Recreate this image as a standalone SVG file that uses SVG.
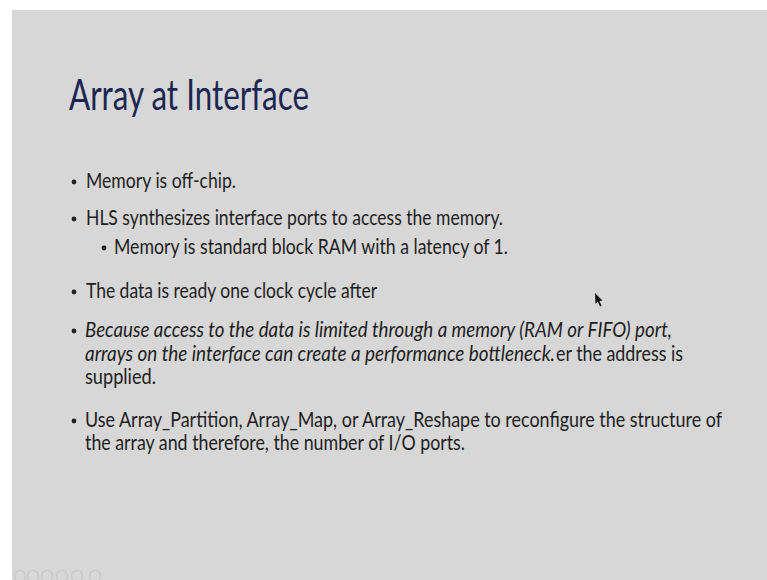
<svg xmlns="http://www.w3.org/2000/svg" width="767" height="580" viewBox="0 0 767 580">
<style>
.t{font-family:"Lato","Open Sans","Liberation Sans",sans-serif;font-size:21px;fill:#1e1e1e}
.i{font-style:italic}
.title{font-family:"Lato","Open Sans","Liberation Sans",sans-serif;font-size:43px;fill:#1c2653}
.b{fill:#222}
.ic{fill:none;stroke:#c6c6c6;stroke-width:1.2}
</style>
<rect x="0" y="0" width="767" height="580" fill="#ffffff"/>
<rect x="12" y="10" width="755" height="570" fill="#d7d7d7"/>
<g id="title">
<text class="title" x="69" y="110" textLength="240" lengthAdjust="spacingAndGlyphs">Array at Interface</text>
</g>
<g id="bullets">
<circle class="b" cx="74" cy="182" r="2.4"/>
<text class="t" x="86" y="188" textLength="150" lengthAdjust="spacingAndGlyphs">Memory is off-chip.</text>
<circle class="b" cx="74" cy="219" r="2.4"/>
<text class="t" x="86" y="225" textLength="417" lengthAdjust="spacingAndGlyphs">HLS synthesizes interface ports to access the memory.</text>
<circle class="b" cx="104" cy="248" r="2.4"/>
<text class="t" x="114" y="254" textLength="394" lengthAdjust="spacingAndGlyphs">Memory is standard block RAM with a latency of 1.</text>
<circle class="b" cx="74" cy="292" r="2.4"/>
<text class="t" x="86" y="298" textLength="291" lengthAdjust="spacingAndGlyphs">The data is ready one clock cycle after</text>
<circle class="b" cx="74" cy="331" r="2.4"/>
<text class="t i" x="85" y="337" textLength="587" lengthAdjust="spacingAndGlyphs">Because access to the data is limited through a memory (RAM or FIFO) port,</text>
<text class="t" x="85" y="361"><tspan class="i" textLength="470" lengthAdjust="spacingAndGlyphs">arrays on the interface can create a performance bottleneck.</tspan><tspan x="556" textLength="127" lengthAdjust="spacingAndGlyphs">er the address is</tspan></text>
<text class="t" x="85" y="384" textLength="71" lengthAdjust="spacingAndGlyphs">supplied.</text>
<circle class="b" cx="74" cy="421" r="2.4"/>
<text class="t" x="85" y="427" textLength="637" lengthAdjust="spacingAndGlyphs">Use Array_Partition, Array_Map, or Array_Reshape to reconfigure the structure of</text>
<text class="t" x="85" y="450" textLength="380" lengthAdjust="spacingAndGlyphs">the array and therefore, the number of I/O ports.</text>
</g>
<g id="cursor">
<polygon points="595,293 595.5,304 597.8,301.6 600,306.5 601.6,305.8 599.4,300.9 602.5,300.6" fill="#111"/>
</g>
<g id="nav-icons">
<circle class="ic" cx="20" cy="576" r="5.5"/>
<circle class="ic" cx="33" cy="576" r="5.5"/>
<circle class="ic" cx="47" cy="576" r="5.5"/>
<circle class="ic" cx="62" cy="576" r="5.5"/>
<circle class="ic" cx="77" cy="576" r="5.5"/>
<circle class="ic" cx="95" cy="576" r="5.5"/>
</g>
</svg>
